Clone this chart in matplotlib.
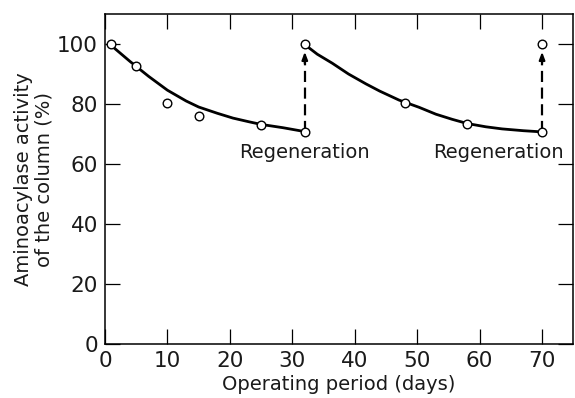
import matplotlib.pyplot as plt

# measured activity (%) vs operating period (days)
days = [1, 5, 10, 15, 25, 32, 32, 48, 58, 70, 70]
activity = [100, 92.7, 80.2, 75.9, 73.1, 70.6, 100, 80.2, 73.2, 70.6, 100]

# smooth decay curves
curve1_days = [1, 4, 7, 10, 13, 15, 18, 20.5, 23, 25, 28.5, 32]
curve1_act = [99.5, 94.2, 89.2, 84.6, 81, 79, 76.9, 75.3, 74.1, 73.2, 72.1, 70.8]
curve2_days = [32, 34, 36.4, 39, 41.8, 44, 47.1, 50.3, 53, 55.6, 58, 61, 63.6, 67, 70]
curve2_act = [99.8, 96.6, 93.6, 90, 86.7, 84.3, 81.3, 78.9, 76.6, 74.9, 73.5, 72.4, 71.7, 71.1, 70.7]

# regeneration events: day, activity before, activity after
regen_days = [32, 70]
regen_before = [70.6, 70.6]
regen_after = [100, 100]
label_x = [32, 63]

txt = "#1a1a1a"
fig = plt.figure(figsize=(5.75, 3.98), dpi=100)
ax = fig.add_axes([0.1826, 0.1357, 0.8144, 0.8291])

ax.plot(curve1_days, curve1_act, color="black", lw=2.0, solid_capstyle="round",
        solid_joinstyle="round")
ax.plot(curve2_days, curve2_act, color="black", lw=2.0, solid_capstyle="round",
        solid_joinstyle="round")

for d, lo, hi, lx in zip(regen_days, regen_before, regen_after, label_x):
    ax.plot([d, d], [lo, hi - 6], color="black", lw=1.6, ls=(0, (5, 2.5)))
    ax.annotate("", xy=(d, hi - 2.6), xytext=(d, hi - 6.5),
                arrowprops=dict(arrowstyle="-|>,head_length=0.45,head_width=0.17",
                                color="black", lw=1.5, shrinkA=0, shrinkB=0))
    ax.text(lx, 63.8, "Regeneration", ha="center", va="center", fontsize=14,
            color=txt)

ax.plot(days, activity, "o", ms=6.2, mfc="white", mec="black", mew=1.0, zorder=5)

ax.set_xlim(0, 75)
ax.set_ylim(0, 110)
ax.set_xticks(range(0, 71, 10))
ax.set_yticks(range(0, 101, 20))
ax.tick_params(direction="in", length=10.5, width=0.9, top=True, right=True,
               labelsize=15.5, pad=5, labelcolor=txt)
for s in ax.spines.values():
    s.set_linewidth(1.1)

ax.set_xlabel("Operating period (days)", fontsize=14, labelpad=3, color=txt)
ax.set_ylabel("Aminoacylase activity\nof the column (%)", fontsize=14,
              linespacing=1.05, labelpad=3, color=txt)

fig.savefig("out.png", dpi=100)
